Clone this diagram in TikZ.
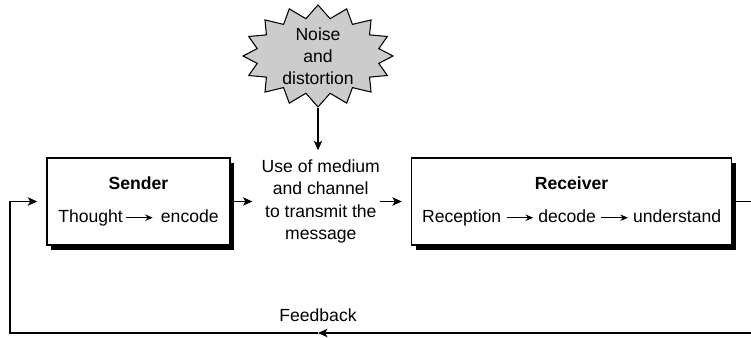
\documentclass[tikz,border=0pt]{standalone}
\usepackage{fontspec}
\setmainfont{Liberation Sans}
\usetikzlibrary{arrows.meta,positioning,calc,shapes.symbols,shadows}
\newcommand{\flowarrow}{\tikz[baseline={(0,-2.7pt)}]\draw[-{Stealth[length=1.5mm,width=1.3mm]},
  line width=0.5pt] (0,0) -- (5.3mm,0);}
\tikzset{
  commbox/.style={draw=black, line width=0.9pt, fill=white, align=center,
    minimum width=36.6mm, minimum height=17.4mm, font=\fontsize{10}{12.8}\selectfont,
    drop shadow={shadow xshift=0.8mm, shadow yshift=-1mm, fill=black, opacity=1}},
  medtext/.style={align=center, inner sep=0pt, font=\fontsize{10}{12.8}\selectfont},
  noiseburst/.style={starburst, starburst points=16, starburst point height=2.6mm,
    random starburst=0, draw=black, line width=0.6pt, fill=black!20, inner sep=-2pt,
    minimum width=30mm, minimum height=20.4mm, align=center,
    font=\fontsize{10}{12.5}\selectfont},
  lbl/.style={font=\fontsize{10}{12}\selectfont, inner sep=1pt},
  arr/.style={-{Stealth[length=1.9mm, width=1.7mm, inset=0.5mm]}, line width=0.6pt,
    shorten >=1.8mm},
  fbline/.style={line width=0.6pt}
}
\begin{document}
\begin{tikzpicture}
  \useasboundingbox (0,0) rectangle (15.02,6.76);
  % the two parties
  \node[commbox] (sender) at (2.77,2.73)
    {\textbf{Sender}\\[5.9pt]Thought\,\flowarrow\ \,encode};
  \node[commbox, minimum width=64mm, right=36mm of sender] (receiver)
    {\textbf{Receiver}\\[5.9pt]Reception\ \flowarrow\ decode\ \flowarrow\ understand};
  \node[medtext] (medium) at ($(sender.east)!0.5!(receiver.west)$)
    {Use of medium\\and channel\\to transmit the\\message};
  \node[noiseburst] (noise) at (6.36,5.64) {Noise\\and\\distortion};
  % feedback loop corners
  \coordinate (fbleft) at (0.2,0.1);
  \coordinate (fbright) at (15.04,0.1);
  \coordinate (fbmid) at (6.36,0.1);
  \draw[arr] (noise.south) -- (noise.south |- medium.north);
  \draw[arr] (sender.east) -- (medium.west |- sender.east);
  \draw[arr] (medium.east |- receiver.west) -- (receiver.west);
  \draw[arr, shorten >=0pt] (receiver.east) -| (fbright) -- (fbmid);
  \draw[arr] (fbmid) -- (fbleft) |- (sender.west);
  \node[lbl, above=1.8mm of fbmid] (fblabel) {Feedback};
\end{tikzpicture}
\end{document}
